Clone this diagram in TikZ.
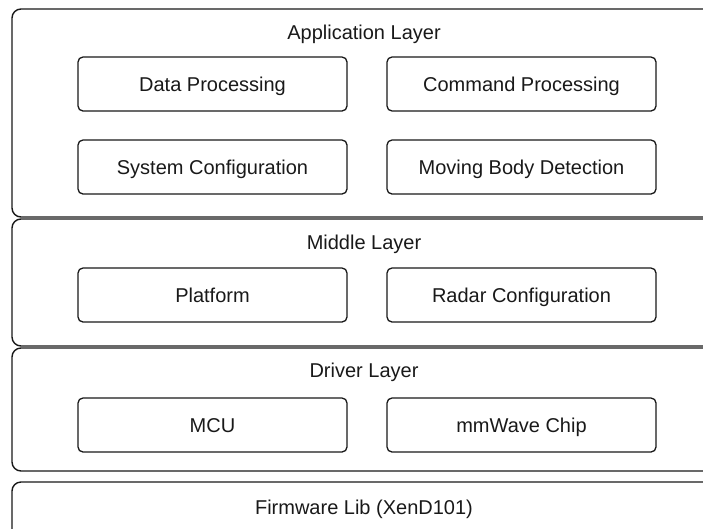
\documentclass[tikz,border=0pt]{standalone}
\usepackage{fontspec}
\setmainfont{Liberation Sans}
\begin{document}
\begin{tikzpicture}[x=1pt,y=-1pt,
  layer/.style={draw=black!90,line width=1.4pt,rounded corners=9pt},
  txt/.style={font=\fontsize{20}{22}\selectfont,text=black!90,text height=14.3pt,text depth=0pt},
  mod/.style={txt,draw=black!90,line width=1.3pt,rounded corners=5pt,minimum width=269pt,minimum height=54pt,inner sep=0pt},
  ltitle/.style={txt,inner sep=0pt}]
\useasboundingbox (0,0) rectangle (703,528);
\begin{scope}
\clip (0,0) rectangle (703,528);
\draw[layer] (12,9) rectangle (722,217);
\draw[layer] (12,219) rectangle (722,346);
\draw[layer] (12,348) rectangle (722,471);
\draw[layer] (12,482) rectangle (722,560);
\end{scope}
\node[ltitle] (app) at (364,32) {Application Layer};
\node[ltitle] (mid) at (364,242) {Middle Layer};
\node[ltitle] (drv) at (364,370) {Driver Layer};
\node[ltitle] (fw) at (364,507) {Firmware Lib (XenD101)};
\node[mod] (dp) at (212.5,84) {Data Processing};
\node[mod] (cp) at (521.5,84) {Command Processing};
\node[mod] (sc) at (212.5,167) {System Configuration};
\node[mod] (mb) at (521.5,167) {Moving Body Detection};
\node[mod] (pf) at (212.5,295) {Platform};
\node[mod] (rc) at (521.5,295) {Radar Configuration};
\node[mod] (mcu) at (212.5,425) {MCU};
\node[mod] (mm) at (521.5,425) {mmWave Chip};
\end{tikzpicture}
\end{document}
